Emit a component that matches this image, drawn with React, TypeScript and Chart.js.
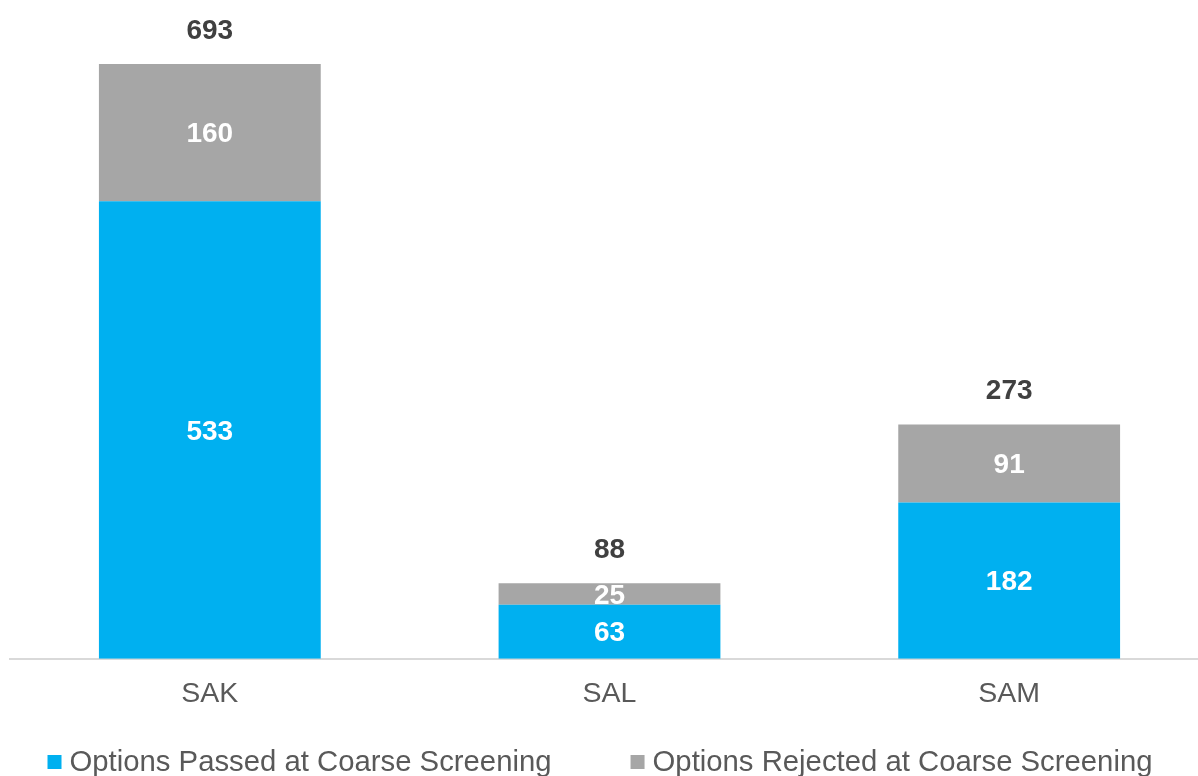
import React, { useEffect, useRef } from "react";
import { Chart, registerables } from "chart.js";

Chart.register(...registerables);

const categories = ["SAK", "SAL", "SAM"];
const passedValues = [533, 63, 182];
const rejectedValues = [160, 25, 91];
const totalValues = [693, 88, 273];
const seriesNames = ["Options Passed at Coarse Screening", "Options Rejected at Coarse Screening"];

const FONT = "'Liberation Sans', Arial, sans-serif";
const BLUE = "#00B0F0";
const GRAY = "#A6A6A6";

const labelsPlugin = {
  id: "stackLabels",
  afterDatasetsDraw(chart: any) {
    const ctx = chart.ctx;
    ctx.save();
    ctx.textAlign = "center";
    ctx.textBaseline = "middle";
    ctx.font = `bold 28px ${FONT}`;
    chart.data.datasets.forEach((ds: any, di: number) => {
      const meta = chart.getDatasetMeta(di);
      meta.data.forEach((el: any, i: number) => {
        const v = ds.data[i];
        ctx.fillStyle = "#FFFFFF";
        ctx.fillText(String(v), el.x, (el.y + el.base) / 2 + 2);
      });
    });
    const topMeta = chart.getDatasetMeta(chart.data.datasets.length - 1);
    ctx.fillStyle = "#404040";
    topMeta.data.forEach((el: any, i: number) => {
      ctx.fillText(String(totalValues[i]), el.x, el.y - 33);
    });
    ctx.restore();
  },
};

const legendPlugin = {
  id: "customLegend",
  afterDraw(chart: any) {
    const ctx = chart.ctx;
    ctx.save();
    ctx.font = `29.3px ${FONT}`;
    ctx.textBaseline = "middle";
    ctx.textAlign = "left";
    const box = 14;
    const gap = 8;
    const itemGap = 79;
    const ds = chart.data.datasets;
    const widths = ds.map((d: any) => ctx.measureText(d.label).width);
    let total = 0;
    widths.forEach((w: number, i: number) => {
      total += box + gap + w + (i < widths.length - 1 ? itemGap : 0);
    });
    let x = 600 - total / 2;
    const cy = 762;
    ds.forEach((d: any, i: number) => {
      ctx.fillStyle = d.backgroundColor;
      ctx.fillRect(x, cy - box / 2, box, box);
      ctx.fillStyle = "#595959";
      ctx.fillText(d.label, x + box + gap, cy + 1);
      x += box + gap + widths[i] + itemGap;
    });
    ctx.restore();
  },
};

export default function App() {
  const ref = useRef<HTMLCanvasElement | null>(null);
  useEffect(() => {
    if (!ref.current) return;
    const chart = new Chart(ref.current, {
      type: "bar",
      data: {
        labels: categories,
        datasets: [
          { label: seriesNames[0], data: passedValues, backgroundColor: BLUE, barPercentage: 0.555, categoryPercentage: 1 },
          { label: seriesNames[1], data: rejectedValues, backgroundColor: GRAY, barPercentage: 0.555, categoryPercentage: 1 },
        ],
      },
      options: {
        animation: false,
        responsive: true,
        maintainAspectRatio: false,
        layout: { padding: { top: 15, left: 10, right: 0, bottom: 47 } },
        plugins: {
          legend: { display: false },
          tooltip: { enabled: false },
        },
        scales: {
          x: {
            stacked: true,
            grid: { display: false, drawTicks: false },
            border: { display: true, color: "#D9D9D9", width: 2 },
            ticks: { color: "#595959", font: { family: FONT, size: 28.5 }, padding: 18 },
          },
          y: {
            stacked: true,
            display: false,
            min: 0,
            max: 750,
          },
        },
      },
      plugins: [labelsPlugin, legendPlugin],
    });
    return () => chart.destroy();
  }, []);
  return (
    <div style={{ position: "fixed", left: 0, top: 0, width: 1198, height: 776, overflow: "hidden", background: "#fff" }}>
      <div style={{ position: "relative", width: 1209, height: 776 }}>
        <canvas ref={ref} />
      </div>
    </div>
  );
}
